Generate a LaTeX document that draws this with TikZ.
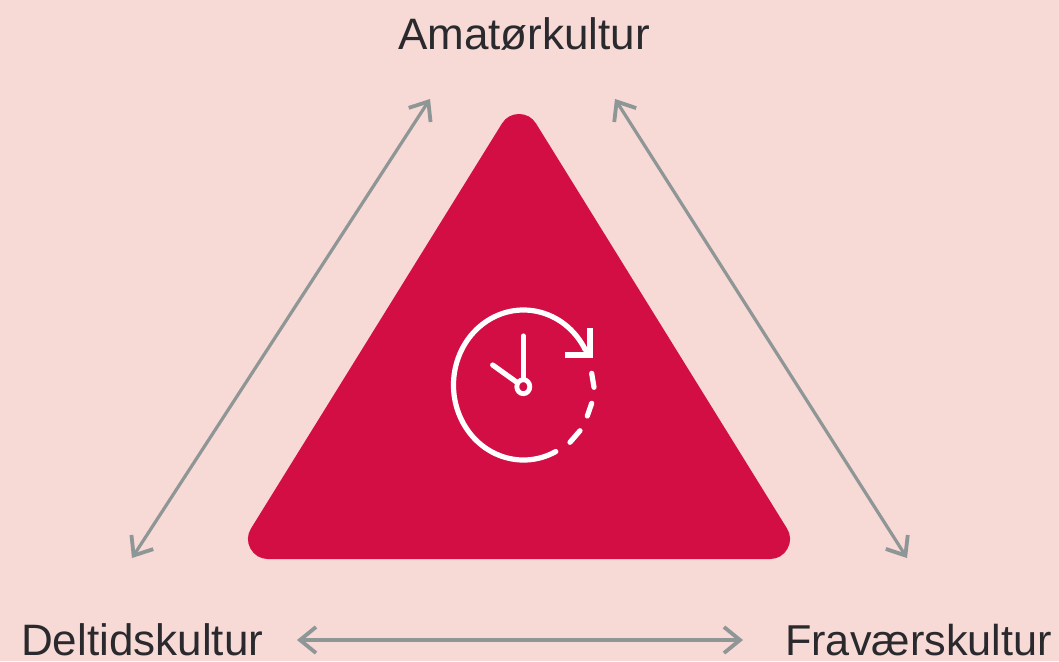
\documentclass[tikz,border=0pt]{standalone}
\usepackage{fontspec}
\setmainfont{Liberation Sans}
\usetikzlibrary{arrows.meta}
\definecolor{bgpink}{HTML}{F7D9D5}
\definecolor{tricrimson}{HTML}{D20E44}
\definecolor{arrowgrey}{HTML}{8E9696}
\definecolor{labelink}{HTML}{2A2A2E}
\tikzset{
  labeltext/.style={font=\fontsize{44}{46}\selectfont, text=labelink, inner sep=0pt, anchor=base west},
  link/.style={draw=arrowgrey, line width=3.2pt, {Straight Barb[length=16pt,width=26pt,line width=3.8pt]}-{Straight Barb[length=16pt,width=26pt,line width=3.8pt]}},
  clockline/.style={draw=white, line width=5.2pt, line cap=round},
}
\begin{document}
\begin{tikzpicture}[x=1pt,y=-1pt]
\useasboundingbox (0,0) rectangle (1059,661);
\fill[bgpink] (0,0) rectangle (1059,661);
% triangle: inner triangle stroked with round joins gives the rounded corners
\filldraw[fill=tricrimson, draw=tricrimson, line width=40pt, line join=round] (519,134) -- (770,539) -- (268,539) -- cycle;
% labels
\node[labeltext] (top) at (398,49) {Amatørkultur};
\node[labeltext] (left) at (21,655) {Deltidskultur};
\node[labeltext, font=\fontsize{43.2}{46}\selectfont] (right) at (785,655) {Fraværskultur};
% connector ends
\coordinate (tl) at (430,99);
\coordinate (bl) at (132,558);
\coordinate (tr) at (615,99);
\coordinate (br) at (907,558);
\coordinate (hl) at (297,640);
\coordinate (hr) at (743,640);
\draw[link] (bl) -- (tl);
\draw[link] (tr) -- (br);
\draw[link] (hl) -- (hr);
% clock
\draw[clockline] (585.3,349.8) arc[start angle=-28, end angle=-297.5, x radius=70, y radius=75];
\draw[clockline, line cap=butt, miter limit=10] (590,328) -- (590,355) -- (565,355);
\draw[clockline] (591.7,373.3) -- (594,387.3);
\draw[clockline] (591.7,403.3) -- (587.3,416);
\draw[clockline] (580,430.7) -- (570,442.3);
\draw[clockline] (523.3,336) -- (523.3,378);
\draw[clockline] (492.7,365) -- (516,381.7);
\draw[draw=white, line width=4.8pt] (523.3,386.7) ellipse[x radius=6.5, y radius=7];
\end{tikzpicture}
\end{document}
